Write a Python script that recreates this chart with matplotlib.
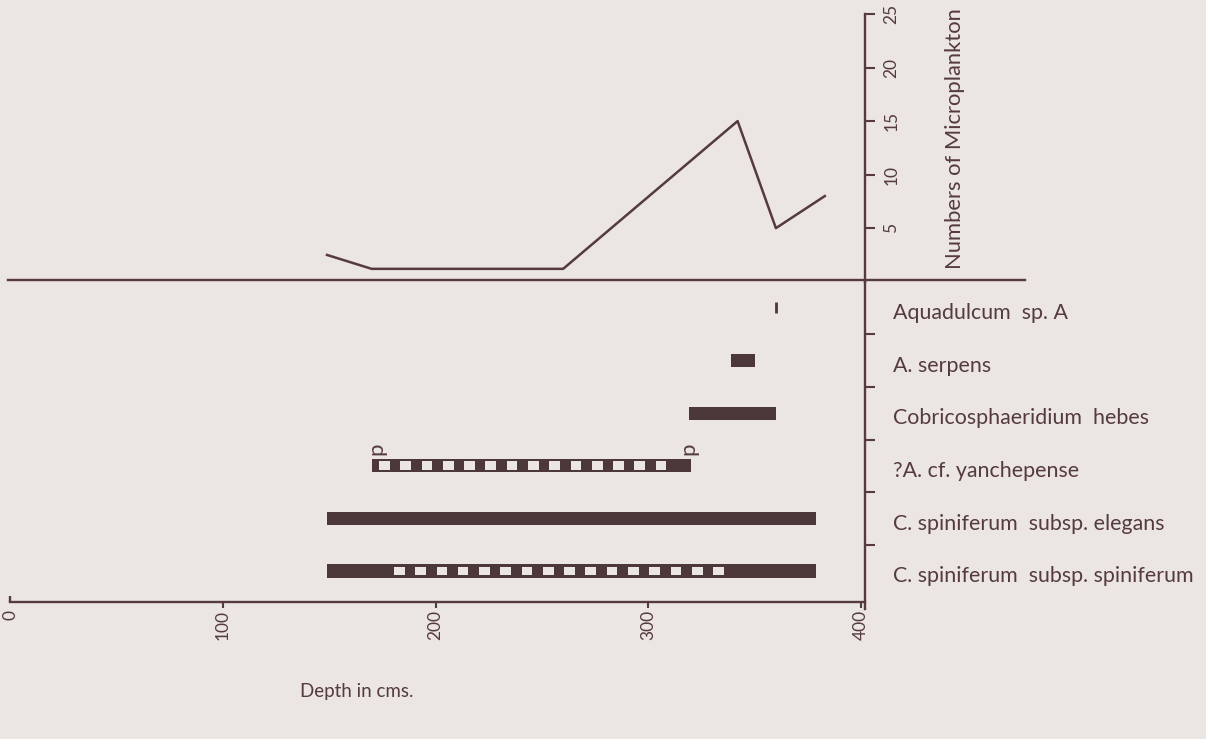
import numpy as np
import matplotlib.pyplot as plt
from matplotlib.patches import Rectangle

plt.rcParams['font.family'] = ['Lato', 'DejaVu Sans']

# microplankton counts against depth
depth = [149, 170, 260, 342, 360, 383]
counts = [2.5, 1.2, 1.2, 15, 5, 8]

# taxa ranges (depth in cms)
taxa = ['Aquadulcum  sp. A', 'A. serpens', 'Cobricosphaeridium  hebes',
        '?A. cf. yanchepense', 'C. spiniferum  subsp. elegans',
        'C. spiniferum  subsp. spiniferum']
range_start = [360, 339, 319, 170, 149, 149]
range_end = [360, 350, 360, 320, 379, 379]
# part of range drawn with open squares (None = solid)
open_start = [None, None, None, 176, None, 183]
open_end = [None, None, None, 315, None, 340]
p_marks = [172, 319]

ink = '#553a40'
bar_c = '#4c383b'
bg = '#ebe6e1'

W, H = 1206, 739
fig = plt.figure(figsize=(W / 100, H / 100), dpi=100, facecolor=bg)
xl = (-10 / 2.1275, (W - 10) / 2.1275)

# upper panel
base_px = 281.7
ax1 = fig.add_axes([0, 1 - base_px / H, 1, base_px / H])
ax1.set_facecolor('none')
ax1.set_xlim(*xl)
ax1.set_ylim(0, base_px / 10.708)
ax1.plot(depth, counts, color=ink, lw=1.8)
for s in ['top', 'left']:
    ax1.spines[s].set_visible(False)
ax1.spines['bottom'].set_position(('data', 0.15))
ax1.spines['bottom'].set_bounds(-1, 477)
ax1.spines['right'].set_position(('data', 402))
ax1.spines['right'].set_bounds(0, 25)
for s in ['bottom', 'right']:
    ax1.spines[s].set_color(ink)
    ax1.spines[s].set_linewidth(1.7)
ax1.set_xticks([])
ax1.yaxis.tick_right()
ax1.set_yticks([5, 10, 15, 20, 25])
ax1.set_yticklabels(['5', '10', '15', '20', '25'], rotation=90, va='center')
ax1.tick_params(axis='y', direction='out', length=7, width=1.5, color=ink,
                labelcolor=ink, labelsize=12.5, pad=6)
ax1.text(444, 13.4, 'Numbers of Microplankton', rotation=90, ha='center',
         va='center', fontsize=15.8, color=ink)

# lower panel
row_px = 52.6
top_row = (282 - 308) / row_px
ax2 = fig.add_axes([0, 0, 1, (H - 282) / H])
ax2.set_facecolor('none')
ax2.set_xlim(*xl)
ax2.set_ylim(top_row + (H - 282) / row_px, top_row)

bh = 0.25
for i in range(len(taxa)):
    if range_start[i] == range_end[i]:
        ax2.vlines(range_start[i], i - 0.11, i + 0.1, color=bar_c, lw=2)
    else:
        ax2.barh(i, range_end[i] - range_start[i], left=range_start[i],
                 height=bh, color=bar_c)
    if open_start[i] is not None:
        for c in np.arange(open_start[i], open_end[i], 10):
            ax2.add_patch(Rectangle((c - 2.5, i - 0.085), 5.0, 0.17,
                                    facecolor=bg, edgecolor='none'))
    ax2.text(415, i + 0.1, taxa[i], fontsize=15.4, color=ink, va='center',
             ha='left')
for p in p_marks:
    ax2.text(p, 3 - 0.33, 'p', rotation=90, fontsize=16, color=ink,
             ha='center', va='center')

for s in ['top', 'left']:
    ax2.spines[s].set_visible(False)
ax2.spines['bottom'].set_position(('data', 5.59))
ax2.spines['bottom'].set_bounds(0, 402)
ax2.spines['right'].set_position(('data', 402))
ax2.spines['right'].set_bounds(top_row, 5.72)
for s in ['bottom', 'right']:
    ax2.spines[s].set_color(ink)
    ax2.spines[s].set_linewidth(1.7)
ax2.vlines(0, 5.47, 5.59, color=ink, lw=1.7)
ax2.set_xticks([0, 100, 200, 300, 400])
ax2.set_xticklabels(['0', '100', '200', '300', '400'], rotation=90)
ax2.tick_params(axis='x', direction='out', length=4, width=1.5, color=ink,
                labelcolor=ink, labelsize=12.5, pad=2)
ax2.xaxis.get_major_ticks()[0].tick1line.set_visible(False)
ax2.yaxis.tick_right()
ax2.set_yticks([0.5, 1.5, 2.5, 3.5, 4.5])
ax2.set_yticklabels([])
ax2.tick_params(axis='y', direction='out', length=7, width=1.5, color=ink)

fig.text(300 / W, 1 - 692 / H, 'Depth in cms.', fontsize=13.5, color=ink,
         va='center', ha='left')

fig.savefig('out.png', dpi=100, facecolor=bg)
